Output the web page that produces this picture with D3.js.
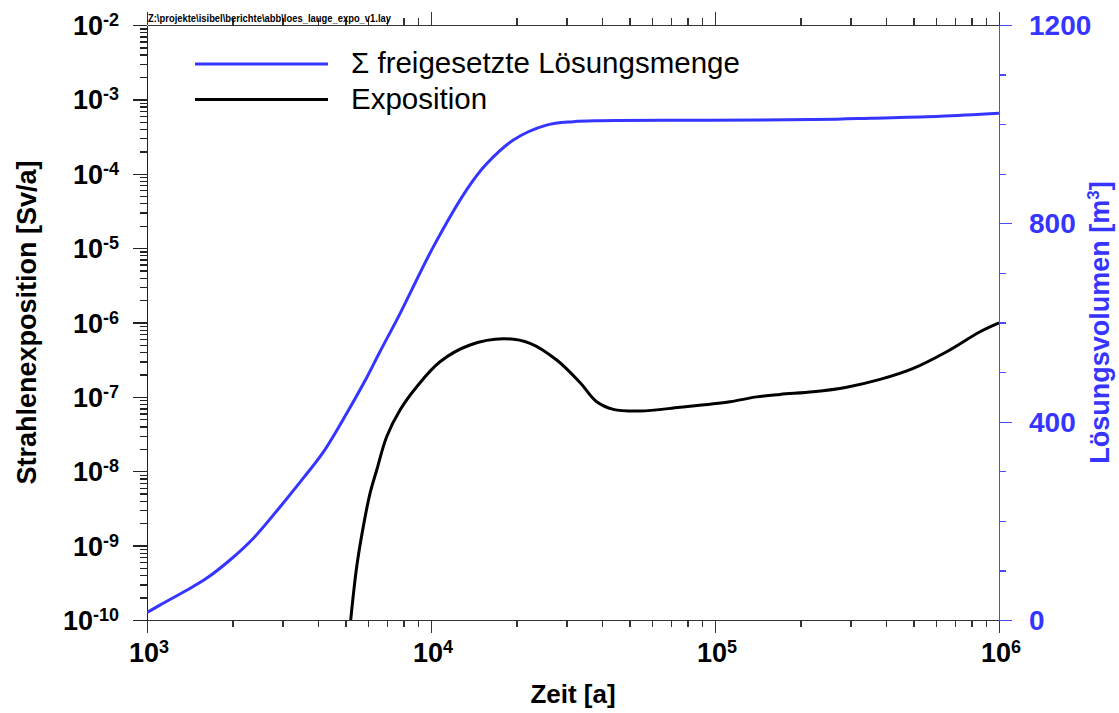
<!DOCTYPE html>
<html>
<head>
<meta charset="utf-8">
<script src="https://cdn.jsdelivr.net/npm/d3@7"></script>
<style>
  body { margin: 0; background: #fff; }
  svg { display: block; font-family: "Liberation Sans", Arial, sans-serif; }
</style>
</head>
<body>
<div id="chart"></div>
<script>
// ---- Data -------------------------------------------------------

// Σ freigesetzte Lösungsmenge (right axis, m³) over time [a]
const TIME_VOL = [1000, 1110, 1380, 1620, 1960, 2370, 2940, 3550, 4180, 5050, 5940, 6610,
  7780, 10200, 13400, 15700, 19500, 25500, 31700, 39400, 96000, 269000, 352000, 620000, 1000000];
const VOLUME = [15, 30, 60, 84, 121, 165, 228, 286, 339, 417, 489, 541,
  618, 753, 869, 920, 968, 998, 1005, 1007, 1008, 1010, 1012, 1016, 1022];

// Exposition (left axis, Sv/a) over time [a]
const TIME_EXPO = [5215, 5475, 5775, 6100, 6440, 6980, 7780, 8910, 10760, 13720, 17970, 22320,
  27710, 33460, 38320, 43850, 54440, 75300, 112900, 140300, 169400, 221900, 290900, 381100,
  499200, 654300, 857500, 1000000];
const EXPOSITION = [1.0e-10, 5.2e-10, 1.8e-9, 5.05e-9, 1.04e-8, 2.91e-8, 6.67e-8, 1.37e-7, 2.97e-7,
  4.98e-7, 6.04e-7, 5.25e-7, 3.13e-7, 1.56e-7, 8.6e-8, 6.8e-8, 6.46e-8, 7.24e-8, 8.6e-8, 1.0e-7,
  1.08e-7, 1.17e-7, 1.35e-7, 1.72e-7, 2.42e-7, 4.05e-7, 7.52e-7, 9.9e-7];

const X_EXPONENTS = [3, 4, 5, 6];
const Y_EXPONENTS = [-2, -3, -4, -5, -6, -7, -8, -9, -10];
const Y2_TICKS = [0, 400, 800, 1200];

const LEGEND = ['\u03A3 freigesetzte Lösungsmenge', 'Exposition'];
const TITLE_X = 'Zeit [a]';
const TITLE_Y = 'Strahlenexposition [Sv/a]';
const TITLE_Y2 = 'Lösungsvolumen [m';
const FILE_PATH = 'Z:\\projekte\\isibel\\berichte\\abb\\loes_lauge_expo_v1.lay';

// ---- Layout -----------------------------------------------------

const W = 1119, H = 713;
const M = { left: 147, right: 999, top: 25, bottom: 620 };
const BLUE = '#3535ff';
const AXIS_BLUE = '#4a4aff';

const svg = d3.select('#chart').append('svg')
  .attr('width', W).attr('height', H);

const x = d3.scaleLog().domain([1e3, 1e6]).range([M.left, M.right]);
const y = d3.scaleLog().domain([1e-10, 1e-2]).range([M.bottom, M.top]);
const y2 = d3.scaleLinear().domain([0, 1200]).range([M.bottom, M.top]);

// minor tick positions (2..9 per decade)
function minorTicks(lo, hi) {
  const out = [];
  for (let e = lo; e < hi; e++) {
    for (let k = 2; k <= 9; k++) out.push(k * Math.pow(10, e));
  }
  return out;
}
const xMajor = X_EXPONENTS.map(e => Math.pow(10, e));
const yMajor = Y_EXPONENTS.map(e => Math.pow(10, e));

function styleAxis(g, color) {
  g.select('.domain').attr('stroke', color).attr('stroke-width', 1.3);
  g.selectAll('.tick line').attr('stroke', color).attr('stroke-width', 1.3);
  g.attr('shape-rendering', 'crispEdges');
}

// ---- Axes -------------------------------------------------------

// bottom
svg.append('g').attr('transform', `translate(0,${M.bottom})`)
  .call(d3.axisBottom(x).tickValues(minorTicks(3, 6)).tickSize(7).tickSizeOuter(0).tickFormat(''))
  .call(g => styleAxis(g, '#333'));
svg.append('g').attr('transform', `translate(0,${M.bottom})`)
  .call(d3.axisBottom(x).tickValues(xMajor).tickSize(13).tickSizeOuter(0).tickFormat(''))
  .call(g => styleAxis(g, '#333'));

// top
svg.append('g').attr('transform', `translate(0,${M.top})`)
  .call(d3.axisTop(x).tickValues(minorTicks(3, 6)).tickSize(7).tickSizeOuter(0).tickFormat(''))
  .call(g => styleAxis(g, '#333'));
svg.append('g').attr('transform', `translate(0,${M.top})`)
  .call(d3.axisTop(x).tickValues(xMajor).tickSize(13).tickSizeOuter(0).tickFormat(''))
  .call(g => styleAxis(g, '#333'));

// left
svg.append('g').attr('transform', `translate(${M.left},0)`)
  .call(d3.axisLeft(y).tickValues(minorTicks(-10, -2)).tickSize(7).tickSizeOuter(0).tickFormat(''))
  .call(g => styleAxis(g, '#222'));
svg.append('g').attr('transform', `translate(${M.left},0)`)
  .call(d3.axisLeft(y).tickValues(yMajor).tickSize(14).tickSizeOuter(0).tickFormat(''))
  .call(g => styleAxis(g, '#222'));

// right (linear, blue)
svg.append('g').attr('transform', `translate(${M.right},0)`)
  .call(d3.axisRight(y2).tickValues(d3.range(0, 1201, 100)).tickSize(7).tickSizeOuter(0).tickFormat(''))
  .call(g => styleAxis(g, AXIS_BLUE));
svg.append('g').attr('transform', `translate(${M.right},0)`)
  .call(d3.axisRight(y2).tickValues(Y2_TICKS).tickSize(13).tickSizeOuter(0).tickFormat(''))
  .call(g => styleAxis(g, AXIS_BLUE));

// ---- Tick labels ------------------------------------------------

function powLabel(text, exp) {
  text.append('tspan').text('10');
  text.append('tspan').attr('dy', -9).attr('font-size', 18).text(exp);
}

svg.append('g').selectAll('text')
  .data(X_EXPONENTS)
  .join('text')
  .attr('x', d => x(Math.pow(10, d)) + 2)
  .attr('y', 662)
  .attr('text-anchor', 'middle')
  .attr('font-size', 27)
  .attr('font-weight', 'bold')
  .each(function (d) { powLabel(d3.select(this), d); });

svg.append('g').selectAll('text')
  .data(Y_EXPONENTS)
  .join('text')
  .attr('x', 119)
  .attr('y', d => y(Math.pow(10, d)) + 10)
  .attr('text-anchor', 'end')
  .attr('font-size', 27)
  .attr('font-weight', 'bold')
  .each(function (d) { powLabel(d3.select(this), d); });

svg.append('g').selectAll('text')
  .data(Y2_TICKS)
  .join('text')
  .attr('x', 1029)
  .attr('y', d => y2(d) + 10)
  .attr('font-size', 28)
  .attr('font-weight', 'bold')
  .attr('fill', BLUE)
  .text(d => d);

// ---- Axis titles ------------------------------------------------

svg.append('text')
  .attr('x', (M.left + M.right) / 2).attr('y', 703)
  .attr('text-anchor', 'middle')
  .attr('font-size', 26).attr('font-weight', 'bold')
  .text(TITLE_X);

svg.append('text')
  .attr('transform', `translate(36,${(M.top + M.bottom) / 2}) rotate(-90)`)
  .attr('text-anchor', 'middle')
  .attr('font-size', 27).attr('font-weight', 'bold')
  .text(TITLE_Y);

const t2 = svg.append('text')
  .attr('transform', `translate(1109,${(M.top + M.bottom) / 2}) rotate(-90)`)
  .attr('text-anchor', 'middle')
  .attr('font-size', 27).attr('font-weight', 'bold')
  .attr('fill', BLUE);
t2.append('tspan').text(TITLE_Y2);
t2.append('tspan').attr('dy', -10).attr('font-size', 17).text('3');
t2.append('tspan').attr('dy', 10).text(']');

// file path header
svg.append('text')
  .attr('x', 148).attr('y', 22)
  .attr('font-size', 10).attr('font-weight', 'bold')
  .attr('textLength', 243).attr('lengthAdjust', 'spacingAndGlyphs')
  .text(FILE_PATH);

// ---- Curves -----------------------------------------------------

svg.append('clipPath').attr('id', 'plot-clip')
  .append('rect')
  .attr('x', M.left).attr('y', M.top)
  .attr('width', M.right - M.left).attr('height', M.bottom - M.top);

const plot = svg.append('g').attr('clip-path', 'url(#plot-clip)');

const volLine = d3.line()
  .x((d, i) => x(TIME_VOL[i]))
  .y(d => y2(d))
  .curve(d3.curveCatmullRom.alpha(0.5));

const expoLine = d3.line()
  .x((d, i) => x(TIME_EXPO[i]))
  .y(d => y(d))
  .curve(d3.curveCatmullRom.alpha(0.5));

plot.append('path')
  .datum(VOLUME)
  .attr('d', volLine)
  .attr('fill', 'none')
  .attr('stroke', BLUE)
  .attr('stroke-width', 3)
  .attr('stroke-linejoin', 'round');

plot.append('path')
  .datum(EXPOSITION)
  .attr('d', expoLine)
  .attr('fill', 'none')
  .attr('stroke', '#000')
  .attr('stroke-width', 3)
  .attr('stroke-linejoin', 'round');

// ---- Legend -----------------------------------------------------

const legend = svg.append('g');
[BLUE, '#000'].forEach((c, i) => {
  const ly = 64 + i * 35.5;
  legend.append('line')
    .attr('x1', 195).attr('x2', 328)
    .attr('y1', ly).attr('y2', ly)
    .attr('stroke', c).attr('stroke-width', 3);
  legend.append('text')
    .attr('x', 351).attr('y', ly + 9)
    .attr('font-size', 29.5)
    .text(LEGEND[i]);
});
</script>
</body>
</html>
